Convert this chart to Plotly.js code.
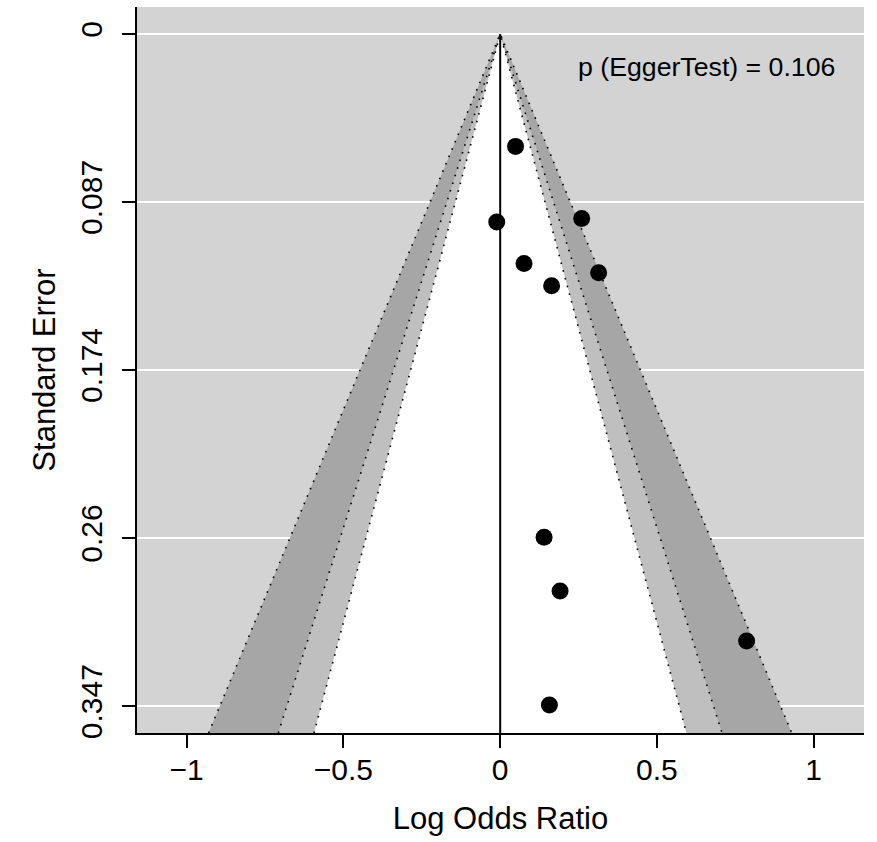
<!DOCTYPE html>
<html>
<head>
<meta charset="utf-8">
<script src="https://cdn.plot.ly/plotly-3.0.1.min.js"></script>
<style>html,body{margin:0;padding:0;background:#fff;}#chart{width:877px;height:842px;}</style>
</head>
<body>
<div id="chart"></div>
<script>
// Study estimates (log odds ratios) and their standard errors
const logOR = [0.049, -0.011, 0.260, 0.076, 0.314, 0.164, 0.140, 0.191, 0.786, 0.157];
const stdErr = [0.0581, 0.0971, 0.0954, 0.1186, 0.1234, 0.1301, 0.2600, 0.2878, 0.3136, 0.3466];

// Contour levels (two-sided z critical values) and their shades
const contourLevels = ["99%", "95%", "90%"];
const contourZ = [2.576, 1.960, 1.645];
const contourFill = ["#a6a6a6", "#bfbfbf", "#ffffff"];

// Axis ticks
const xTickVals = [-1, -0.5, 0, 0.5, 1];
const xTickText = ["\u22121", "\u22120.5", "0", "0.5", "1"];
const maxSE = 0.3472;
const yTickVals = [0, maxSE / 4, maxSE / 2, 3 * maxSE / 4, maxSE];
const yTickText = ["0", "0.087", "0.174", "0.26", "0.347"];

const eggerText = "p (EggerTest) = 0.106";

const yBottom = maxSE * 1.04;
const yTop = -maxSE * 0.04;

const FONT = "Liberation Sans, Arial, Helvetica, sans-serif";

const traces = [];
contourZ.forEach((z, i) => {
  traces.push({
    type: "scatter", mode: "lines",
    name: contourLevels[i],
    x: [0, -z * yBottom, z * yBottom, 0],
    y: [0, yBottom, yBottom, 0],
    fill: "toself", fillcolor: contourFill[i],
    line: {width: 0},
    hoverinfo: "skip", showlegend: false
  });
});
contourZ.forEach((z, i) => {
  traces.push({
    type: "scatter", mode: "lines",
    x: [-z * yBottom, 0, z * yBottom],
    y: [yBottom, 0, yBottom],
    line: {color: "#000", width: 1.6, dash: "1.6px,6.4px"},
    hoverinfo: "skip", showlegend: false
  });
});
// reference line at 0
traces.push({
  type: "scatter", mode: "lines",
  x: [0, 0], y: [0, yBottom],
  line: {color: "#000", width: 2},
  hoverinfo: "skip", showlegend: false
});
// studies
traces.push({
  type: "scatter", mode: "markers",
  x: logOR, y: stdErr,
  marker: {color: "#000", size: 17, line: {width: 0}},
  showlegend: false
});

const layout = {
  width: 877, height: 842,
  margin: {l: 137, r: 13, t: 7, b: 109, pad: 0},
  paper_bgcolor: "#ffffff",
  plot_bgcolor: "#d3d3d3",
  font: {family: FONT, color: "#000", size: 30},
  showlegend: false,
  xaxis: {
    range: [-1.1585, 1.1605],
    tickvals: xTickVals, ticktext: xTickText,
    showgrid: false, zeroline: false,
    showline: true, linecolor: "#000", linewidth: 2,
    ticks: "outside", ticklen: 13, tickwidth: 2, tickcolor: "#000",
    tickfont: {family: FONT, size: 30, color: "#000"},
    ticklabelstandoff: -4,
    title: {text: "Log Odds Ratio", font: {family: FONT, size: 31, color: "#000"}, standoff: 22},
    automargin: false
  },
  yaxis: {
    range: [yBottom, yTop],
    tickvals: yTickVals, ticktext: yTickText,
    tickangle: -90,
    showgrid: true, gridcolor: "#ffffff", gridwidth: 1.5,
    zeroline: false,
    showline: true, linecolor: "#000", linewidth: 2,
    ticks: "outside", ticklen: 13, tickwidth: 2, tickcolor: "#000",
    tickfont: {family: FONT, size: 30, color: "#000"},
    ticklabelstandoff: 8,
    title: {text: "Standard Error", font: {family: FONT, size: 31, color: "#000"}, standoff: 10},
    automargin: false
  },
  annotations: [{
    xref: "paper", yref: "paper",
    x: 0.963, y: 0.918, xanchor: "right", yanchor: "middle",
    text: eggerText, showarrow: false,
    font: {family: FONT, size: 26.7, color: "#000"}
  }]
};

Plotly.newPlot("chart", traces, layout, {displayModeBar: false, staticPlot: true});
</script>
</body>
</html>
